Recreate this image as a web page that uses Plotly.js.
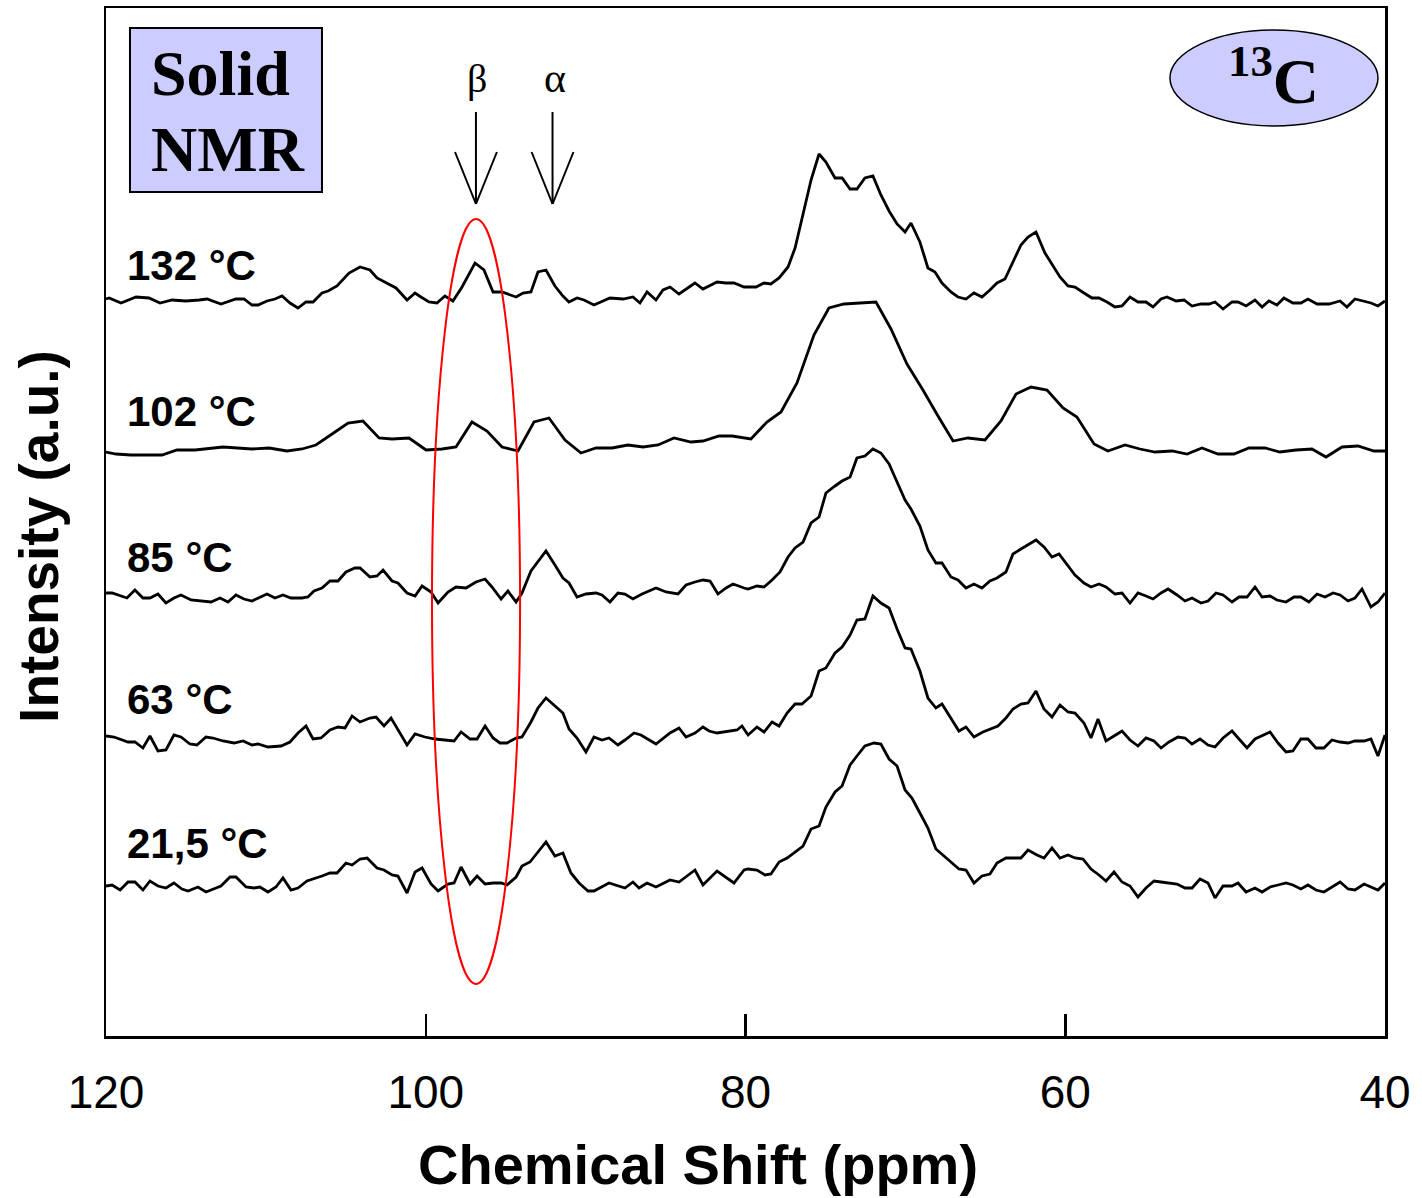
<!DOCTYPE html>
<html>
<head>
<meta charset="utf-8">
<script src="https://cdn.plot.ly/plotly-3.0.1.min.js"></script>
<style>html,body{margin:0;padding:0;background:#fff;}#chart{width:1422px;height:1198px;}</style>
</head>
<body>
<div id="chart"></div>
<script>
// ---- Data (chemical shift in ppm, intensity in a.u. relative to each baseline) ----
const labels = ["132 °C", "102 °C", "85 °C", "63 °C", "21,5 °C"];
const offsets = [7.36, 5.84, 4.39, 2.96, 1.51];
const labelY = [7.71, 6.25, 4.79, 3.37, 1.93];

const ppm132 = [120.00,119.81,119.06,118.12,117.31,116.62,115.87,115.00,114.18,113.68,112.81,111.87,111.37,110.87,110.49,109.93,109.43,108.99,108.49,107.99,107.49,107.05,106.49,106.11,105.55,104.80,104.11,103.49,103.05,102.67,101.86,101.17,100.67,100.30,99.80,99.30,98.80,98.30,97.73,96.92,96.36,95.79,95.23,94.35,93.92,93.42,92.98,92.48,91.92,91.42,91.04,90.54,90.10,89.48,88.48,87.66,87.04,86.60,86.16,85.60,85.16,84.72,84.16,83.16,82.66,81.78,81.22,80.72,80.09,79.84,79.34,78.84,78.41,77.90,77.34,76.90,76.47,75.90,75.40,74.97,74.40,73.96,73.46,73.03,72.53,72.03,71.53,71.02,70.52,70.02,69.65,69.09,68.59,68.15,67.71,67.15,66.71,66.21,65.71,65.21,64.71,64.27,63.77,63.27,62.77,62.33,61.83,61.27,60.83,60.33,59.83,59.39,58.83,58.33,57.89,57.39,56.89,56.45,55.95,55.45,54.95,54.51,54.01,53.64,53.07,52.57,52.07,51.51,51.01,50.63,50.13,49.57,49.19,48.69,48.13,47.69,47.26,46.76,46.32,45.76,45.26,44.82,44.25,43.50,42.81,42.38,41.88,41.44,40.88,40.44,40.00];
const int132 = [0.01,0.02,-0.03,0.03,0.02,-0.03,0.00,-0.01,0.00,0.01,-0.04,0.01,0.01,-0.05,-0.05,-0.01,0.01,0.04,-0.03,-0.08,-0.02,-0.02,0.07,0.09,0.14,0.27,0.33,0.30,0.22,0.19,0.12,0.00,0.07,0.03,-0.02,-0.03,0.04,-0.01,0.13,0.37,0.30,0.08,0.08,0.03,0.07,0.08,0.28,0.30,0.14,0.04,-0.02,0.02,0.00,-0.05,0.02,0.01,0.03,-0.03,0.08,0.00,0.10,0.13,0.06,0.17,0.11,0.18,0.17,0.17,0.13,0.13,0.13,0.17,0.16,0.22,0.33,0.52,0.80,1.20,1.46,1.38,1.22,1.22,1.11,1.11,1.22,1.24,1.05,0.89,0.76,0.68,0.77,0.58,0.32,0.28,0.17,0.08,0.03,0.01,0.07,0.03,0.10,0.17,0.21,0.38,0.55,0.63,0.68,0.47,0.36,0.23,0.14,0.13,0.07,0.02,0.02,-0.02,-0.07,-0.06,0.03,-0.02,-0.02,-0.07,0.01,0.03,-0.01,0.00,-0.06,-0.04,-0.04,-0.02,-0.09,-0.02,-0.02,-0.06,0.00,-0.07,-0.01,-0.05,0.02,-0.03,-0.03,0.01,-0.04,-0.04,-0.01,-0.07,0.01,-0.01,-0.03,-0.06,-0.01];

const ppm102 = [120.00,119.37,118.44,116.50,115.56,114.43,112.68,110.87,109.80,108.68,107.74,106.87,105.86,104.86,103.93,102.92,102.11,101.05,99.98,98.98,98.11,97.11,96.17,95.23,94.23,93.23,92.29,91.29,90.29,89.35,88.35,87.35,86.41,85.47,84.47,83.41,82.66,81.66,80.84,80.09,79.66,78.66,77.78,76.78,75.72,74.78,73.84,71.84,70.90,69.90,68.90,67.96,67.02,66.08,65.02,64.02,63.08,62.14,61.14,60.14,59.27,58.20,57.33,56.26,55.33,54.39,53.32,52.38,51.45,50.45,49.45,48.51,47.51,46.57,45.57,44.57,43.69,42.69,41.69,40.69,40.00];
const int102 = [0.00,-0.02,-0.03,-0.03,0.02,0.02,0.05,0.03,0.04,0.01,0.03,0.07,0.18,0.29,0.31,0.14,0.13,0.14,0.02,0.03,0.05,0.30,0.21,0.05,0.01,0.30,0.34,0.12,-0.01,0.04,0.04,0.07,0.05,0.07,0.14,0.10,0.11,0.16,0.16,0.14,0.13,0.30,0.40,0.69,1.17,1.44,1.48,1.50,1.23,0.88,0.62,0.36,0.11,0.14,0.12,0.31,0.58,0.65,0.62,0.44,0.35,0.08,0.01,0.07,0.03,0.00,0.01,-0.02,0.04,-0.02,-0.02,0.04,0.04,0.00,0.02,0.03,-0.05,0.05,0.06,0.01,0.01];

const ppm85 = [120.00,119.62,118.69,118.19,117.69,117.25,116.75,116.25,115.75,115.31,114.68,113.93,113.43,112.87,112.37,111.87,111.37,110.87,109.93,109.43,108.93,108.43,107.74,107.37,106.99,106.49,105.99,105.49,104.99,104.43,104.11,103.49,103.05,102.67,102.11,101.74,101.17,100.67,100.23,99.67,99.23,98.61,98.11,97.48,96.86,96.29,95.86,95.29,94.86,94.35,93.98,93.42,92.48,91.92,91.42,91.04,90.54,89.98,89.35,88.98,88.48,87.98,87.54,87.04,86.47,85.60,84.97,84.22,83.72,83.16,82.66,82.22,81.72,81.22,80.78,80.09,79.84,79.28,78.84,78.34,77.84,77.34,76.90,76.40,75.90,75.40,74.97,74.40,73.96,73.46,73.03,72.53,72.03,71.53,71.02,70.52,70.02,69.65,69.09,68.59,68.09,67.71,67.15,66.71,66.21,65.71,65.21,64.71,64.27,63.71,63.27,62.77,62.33,61.83,61.33,60.83,60.39,59.89,59.39,58.83,58.39,57.89,57.45,56.89,56.45,55.95,55.45,54.95,54.51,54.01,53.57,53.01,52.51,52.07,51.51,51.07,50.57,50.13,49.57,49.13,48.63,48.13,47.69,47.19,46.76,46.19,45.69,45.26,44.76,44.25,43.75,43.25,42.81,42.31,41.88,41.44,40.88,40.44,40.00];
const int85 = [0.04,0.04,-0.01,0.07,-0.01,-0.01,0.03,-0.06,-0.01,0.02,-0.03,-0.04,-0.05,-0.01,-0.05,0.02,-0.02,-0.04,0.03,-0.01,0.02,-0.01,-0.01,0.00,0.06,0.09,0.16,0.16,0.25,0.29,0.29,0.20,0.21,0.27,0.16,0.14,0.04,0.01,0.11,0.05,-0.06,0.05,0.10,0.09,0.15,0.18,0.10,-0.02,0.06,-0.05,0.04,0.26,0.46,0.32,0.19,0.14,0.00,0.03,0.04,0.02,-0.05,0.04,0.03,-0.02,0.03,0.09,0.05,0.03,0.12,0.15,0.17,0.16,0.03,0.09,0.13,0.09,0.08,0.11,0.10,0.17,0.25,0.40,0.49,0.55,0.74,0.80,1.04,1.11,1.16,1.20,1.39,1.41,1.48,1.44,1.33,1.15,0.97,0.88,0.71,0.47,0.34,0.34,0.20,0.17,0.09,0.13,0.09,0.16,0.19,0.25,0.43,0.48,0.52,0.57,0.50,0.40,0.43,0.33,0.22,0.14,0.10,0.13,0.10,0.03,0.04,-0.06,0.04,0.01,-0.02,0.04,0.08,0.02,-0.04,-0.01,-0.06,-0.04,0.04,0.02,-0.05,0.00,0.00,0.10,0.00,0.01,-0.03,-0.05,0.00,0.00,-0.05,0.03,0.00,0.04,0.02,-0.04,-0.01,0.08,-0.10,-0.05,0.04];

const ppm63 = [120.00,119.50,118.62,118.19,117.69,117.25,116.75,116.25,115.75,115.31,114.75,114.31,113.75,113.31,112.68,111.99,111.43,110.87,110.49,109.87,109.05,108.49,107.99,107.49,107.05,106.55,105.99,105.49,105.05,104.61,104.11,103.49,103.11,102.61,102.17,101.67,101.17,100.67,100.05,99.42,98.73,98.23,97.79,97.23,96.79,96.29,95.79,95.36,94.92,94.35,93.98,93.42,92.98,92.48,91.42,91.04,90.54,89.98,89.48,88.98,88.54,87.98,87.54,86.97,86.54,85.60,84.72,84.16,83.72,83.16,82.66,82.28,81.78,80.97,80.53,80.22,79.84,79.28,78.84,78.34,77.90,77.40,76.90,76.47,75.90,75.40,74.97,74.40,73.96,73.46,73.03,72.53,72.03,71.53,71.02,70.52,70.02,69.65,69.09,68.59,68.09,67.71,67.15,66.65,66.21,65.71,65.15,64.71,64.21,63.71,63.27,62.77,62.33,61.83,61.33,60.83,60.33,59.83,59.39,58.83,58.39,57.95,57.45,56.95,56.45,55.95,55.45,54.95,54.45,54.01,53.51,52.95,52.51,52.07,51.57,51.07,50.63,50.13,49.57,49.13,48.63,48.13,47.69,47.19,46.69,46.19,45.76,45.26,44.82,44.32,43.82,43.32,42.81,42.31,41.88,41.31,40.88,40.44,40.00];
const int63 = [0.04,0.03,-0.02,-0.02,-0.08,0.04,-0.11,-0.10,0.05,0.03,-0.04,-0.05,0.03,0.02,-0.01,-0.03,-0.01,-0.05,-0.04,-0.07,-0.06,-0.02,0.07,0.14,0.01,0.02,0.10,0.13,0.12,0.24,0.18,0.22,0.23,0.14,0.22,0.08,-0.05,0.06,0.03,0.01,0.00,-0.01,0.08,0.01,0.01,0.14,0.02,-0.03,-0.03,0.02,0.03,0.18,0.32,0.42,0.27,0.11,0.02,-0.12,0.03,0.00,0.02,-0.05,0.00,0.07,0.05,-0.04,0.07,0.12,0.03,0.07,0.13,0.09,0.07,0.09,0.10,0.14,0.05,0.13,0.08,0.18,0.14,0.27,0.36,0.36,0.44,0.69,0.72,0.87,0.93,1.05,1.20,1.21,1.44,1.37,1.32,1.11,0.92,0.91,0.69,0.42,0.32,0.36,0.22,0.09,0.13,0.03,0.08,0.11,0.14,0.22,0.31,0.36,0.37,0.49,0.31,0.23,0.35,0.28,0.27,0.17,0.02,0.21,-0.01,0.04,0.09,0.00,-0.06,0.02,-0.01,-0.08,-0.02,0.03,0.02,-0.04,0.01,-0.05,-0.07,0.02,0.09,0.01,-0.08,0.01,0.04,0.08,-0.03,-0.12,-0.11,0.01,0.01,-0.08,-0.08,0.00,-0.02,-0.03,-0.01,-0.01,0.01,-0.16,0.05];

const ppm21 = [120.00,119.62,119.12,118.62,118.19,117.69,117.25,116.75,116.25,115.75,115.25,114.87,114.25,113.75,112.81,112.24,111.87,111.24,110.74,110.37,109.87,109.37,108.93,108.43,107.99,107.43,106.49,105.99,105.55,104.99,104.61,104.11,103.67,103.05,102.61,102.11,101.74,101.17,100.67,100.23,99.67,99.23,98.61,98.23,97.79,97.23,96.79,96.29,95.79,95.29,94.92,94.35,93.98,93.48,92.98,92.48,91.92,91.42,90.92,90.41,89.85,89.48,88.54,87.54,87.04,86.66,86.16,85.60,84.72,84.16,83.16,82.66,81.78,80.72,80.09,79.84,79.28,78.78,78.41,77.90,77.40,76.90,76.40,75.90,75.40,74.97,74.40,73.96,73.46,73.03,72.53,71.97,71.53,71.02,70.52,70.02,69.59,69.09,68.59,68.09,67.65,67.15,66.65,66.21,65.71,65.21,64.71,64.27,63.71,62.77,62.33,61.77,61.33,60.83,60.33,59.83,59.39,58.89,58.39,57.89,57.45,56.95,56.45,55.95,55.45,54.95,54.45,54.01,53.51,53.01,52.51,52.07,51.57,51.07,50.63,50.13,49.57,49.19,48.69,48.13,47.69,47.19,46.69,46.19,45.76,45.26,44.82,44.32,43.82,43.32,42.81,42.31,41.88,41.31,40.88,40.44,40.00];
const int21 = [-0.01,0.00,-0.05,0.03,0.03,-0.05,0.04,-0.01,-0.03,0.02,-0.04,-0.06,-0.02,-0.07,-0.01,0.08,0.08,-0.02,-0.03,-0.02,-0.07,-0.02,0.07,-0.05,-0.03,0.04,0.09,0.12,0.12,0.22,0.20,0.26,0.27,0.17,0.15,0.10,0.09,-0.08,0.13,0.17,0.01,-0.06,0.01,0.02,0.18,0.01,0.09,0.01,0.02,0.02,0.00,0.08,0.19,0.23,0.33,0.43,0.29,0.32,0.12,0.02,-0.06,-0.06,0.02,-0.03,0.03,-0.03,0.02,-0.02,0.05,0.03,0.15,0.00,0.14,0.02,0.15,0.16,0.15,0.10,0.11,0.23,0.27,0.33,0.39,0.56,0.59,0.78,0.93,0.99,1.20,1.29,1.39,1.42,1.41,1.26,1.19,0.95,0.87,0.72,0.57,0.36,0.30,0.23,0.16,0.15,0.02,0.09,0.11,0.22,0.27,0.27,0.35,0.30,0.27,0.37,0.27,0.30,0.27,0.26,0.16,0.10,0.04,0.13,0.03,-0.01,-0.12,-0.03,0.04,0.03,0.02,0.01,-0.03,-0.03,0.06,0.02,-0.13,-0.01,-0.01,0.02,-0.07,-0.03,-0.07,-0.02,0.00,0.02,0.00,-0.04,0.00,-0.05,-0.07,-0.02,0.03,-0.04,-0.05,0.01,-0.02,-0.05,0.02];

const xTicks = [120, 100, 80, 60, 40];
const xTitle = 'Chemical Shift (ppm)';
const yTitle = 'Intensity (a.u.)';

// ---- Build traces ----
const series = [[ppm132,int132],[ppm102,int102],[ppm85,int85],[ppm63,int63],[ppm21,int21]];
const traces = series.map((s, i) => ({
  x: s[0],
  y: s[1].map(v => v + offsets[i]),
  type: 'scatter',
  mode: 'lines',
  name: labels[i],
  line: {color: '#000000', width: 2.8},
  hoverinfo: 'skip'
}));

const sansFont = 'Liberation Sans, Arial, sans-serif';
const serifFont = 'Liberation Serif, Times New Roman, serif';

const annotations = labels.map((t, i) => ({
  x: 118.80, y: labelY[i], xref: 'x', yref: 'y',
  text: t, showarrow: false, xanchor: 'left', yanchor: 'middle',
  font: {family: sansFont, size: 42, color: '#000', weight: 'bold'}
}));
annotations.push(
  {x: 117.30, y: 9.63, xref: 'x', yref: 'y', text: 'Solid', showarrow: false, xanchor: 'left', yanchor: 'middle',
   font: {family: serifFont, size: 64, color: '#000', weight: 'bold'}},
  {x: 117.30, y: 8.87, xref: 'x', yref: 'y', text: 'NMR', showarrow: false, xanchor: 'left', yanchor: 'middle',
   font: {family: serifFont, size: 64, color: '#000', weight: 'bold'}},
  {x: 47.0, y: 9.60, xref: 'x', yref: 'y', text: '<sup>13</sup>C', showarrow: false, xanchor: 'center', yanchor: 'middle',
   font: {family: serifFont, size: 64, color: '#000', weight: 'bold'}},
  {x: 96.80, y: 9.58, xref: 'x', yref: 'y', text: 'β', showarrow: false, xanchor: 'center', yanchor: 'middle',
   font: {family: serifFont, size: 40, color: '#000'}},
  {x: 91.90, y: 9.58, xref: 'x', yref: 'y', text: 'α', showarrow: false, xanchor: 'center', yanchor: 'middle',
   font: {family: serifFont, size: 42, color: '#000'}},
  // axis titles
  {x: 0.463, y: -0.125, xref: 'paper', yref: 'paper', text: xTitle, showarrow: false, xanchor: 'center', yanchor: 'middle',
   font: {family: sansFont, size: 56, color: '#000', weight: 'bold'}},
  {x: -0.052, y: 0.486, xref: 'paper', yref: 'paper', text: yTitle, showarrow: false, textangle: -90,
   xanchor: 'center', yanchor: 'middle',
   font: {family: sansFont, size: 55, color: '#000', weight: 'bold'}}
);

function arrowShapes(xc) {
  const l = {color: '#000', width: 2};
  return [
    {type: 'line', xref: 'x', yref: 'y', x0: xc, x1: xc, y0: 9.24, y1: 8.32, line: l},
    {type: 'line', xref: 'x', yref: 'y', x0: xc + 1.31, x1: xc, y0: 8.84, y1: 8.32, line: l},
    {type: 'line', xref: 'x', yref: 'y', x0: xc - 1.31, x1: xc, y0: 8.84, y1: 8.32, line: l}
  ];
}

const shapes = [
  {type: 'rect', xref: 'x', yref: 'y', x0: 118.50, x1: 106.49, y0: 8.44, y1: 10.08,
   fillcolor: '#ccccff', line: {color: '#000', width: 2}, layer: 'below'},
  {type: 'circle', xref: 'x', yref: 'y', x0: 53.45, x1: 40.44, y0: 9.10, y1: 10.06,
   fillcolor: '#ccccff', line: {color: '#000', width: 1.5}, layer: 'below'},
  {type: 'circle', xref: 'x', yref: 'y', x0: 99.61, x1: 94.10, y0: 0.52, y1: 8.17,
   line: {color: '#ff0000', width: 2}},
  ...arrowShapes(96.86),
  ...arrowShapes(92.07)
];

const layout = {
  width: 1422, height: 1198,
  margin: {l: 106, r: 37, t: 8, b: 162},
  paper_bgcolor: '#ffffff', plot_bgcolor: '#ffffff',
  showlegend: false,
  font: {family: sansFont, color: '#000'},
  xaxis: {
    range: [120, 40], tickvals: xTicks, ticktext: xTicks.map(String),
    ticks: 'inside', ticklen: 22, tickwidth: 2.5, tickcolor: '#000',
    showline: true, linewidth: 2.5, linecolor: '#000', mirror: true,
    showgrid: false, zeroline: false,
    tickfont: {family: sansFont, size: 46, color: '#000'},
    ticklabelstandoff: 14
  },
  yaxis: {
    range: [0, 10.28], showticklabels: false, ticks: '',
    showline: true, linewidth: 2.5, linecolor: '#000', mirror: true,
    showgrid: false, zeroline: false
  },
  shapes: shapes,
  annotations: annotations
};

Plotly.newPlot('chart', traces, layout, {displayModeBar: false, staticPlot: true});
</script>
</body>
</html>
